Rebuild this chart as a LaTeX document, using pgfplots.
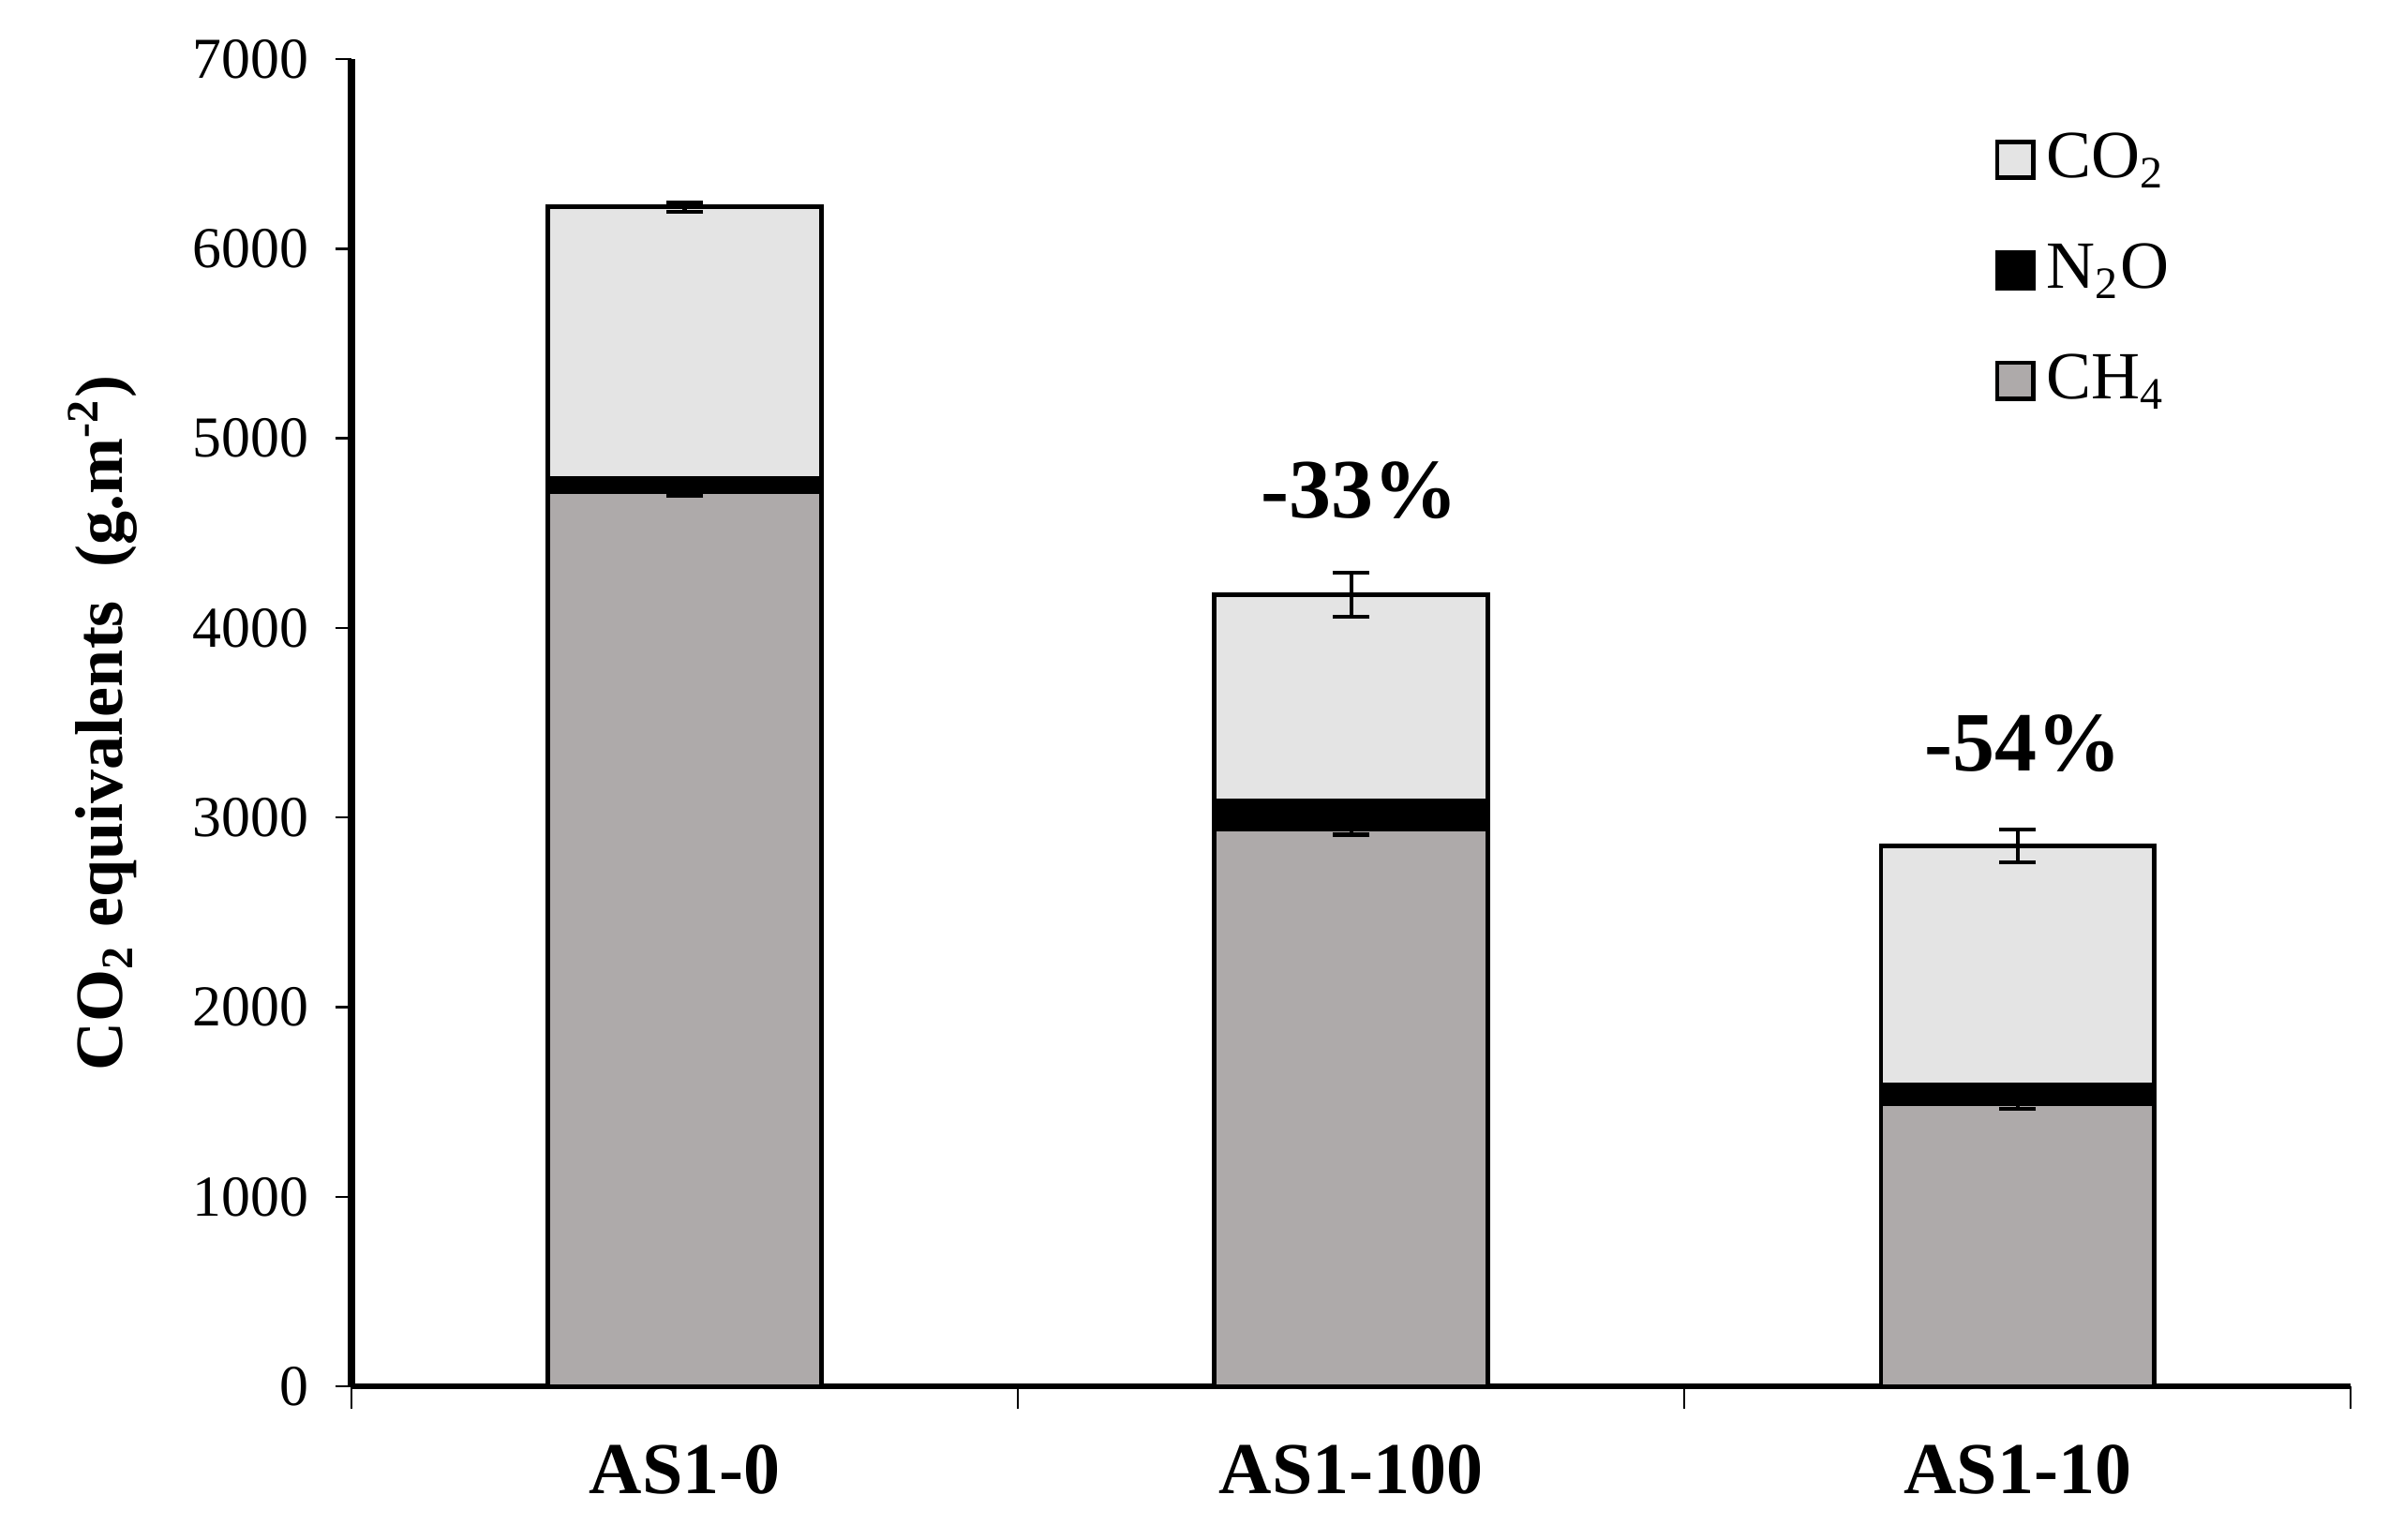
\documentclass[border=0pt]{standalone}
\usepackage{fontspec}
\setmainfont{Liberation Serif}
\usepackage{pgfplots}
\pgfplotsset{compat=1.18}

\definecolor{cotwo}{RGB}{228,228,228}
\definecolor{chfour}{RGB}{174,170,170}

\begin{document}
\begin{tikzpicture}
\path[use as bounding box] (-62.5pt,-27.3pt) rectangle (362.3pt,246.5pt);
\begin{axis}[
  scale only axis,
  width=355.5pt, height=236pt,
  ybar stacked, bar width=0.41,
  xmin=-0.5, xmax=2.5, ymin=0, ymax=7000,
  axis x line*=bottom, axis y line*=left,
  x axis line style={line width=1.1pt, -},
  y axis line style={line width=1.2pt, -},
  tick align=outside,
  xtick={0,1,2}, xticklabels={AS1-0,AS1-100,AS1-10},
  minor xtick={-0.5,0.5,1.5,2.5},
  major x tick style={draw=none},
  minor x tick style={line width=0.4pt, black},
  major y tick style={line width=0.4pt, black},
  major tick length=2.9pt, minor tick length=4pt,
  ytick distance=1000,
  scaled y ticks=false,
  /pgf/number format/1000 sep={},
  /pgf/number format/assume math mode=true,
  yticklabel style={font=\fontsize{10.3}{12}\selectfont, xshift=-1.2pt},
  xticklabel style={font=\bfseries\fontsize{13}{15}\selectfont, yshift=-4pt},
  ylabel={\bfseries CO\textsubscript{2} equivalents\enspace (g.m\textsuperscript{-2})},
  ylabel style={font=\fontsize{12}{14}\selectfont},
  ylabel shift=3pt,
  legend style={draw=none, fill=none, at={(0.813,0.962)}, anchor=north west,
    font=\fontsize{12}{14}\selectfont, row sep=6.2pt,
    /tikz/every even column/.append style={column sep=0pt}},
  legend cell align=left,
  reverse legend,
  every axis plot/.append style={draw=black, line width=0.8pt},
  error bars/error bar style={line width=0.7pt, black},
  error bars/error mark options={rotate=90, mark size=3.3pt, line width=0.7pt, black},
]
\addplot[fill=chfour, legend image code/.code={\draw[fill=chfour, draw=black, line width=0.8pt] (0pt,-3.2pt) rectangle (6.4pt,3.2pt);},
  error bars/.cd, y dir=both, y explicit]
  coordinates {(0,4720) +- (0,25) (1,2940) +- (0,30) (2,1490) +- (0,25)};
\addplot[fill=black, legend image code/.code={\draw[fill=black, draw=black, line width=0.8pt] (0pt,-3.2pt) rectangle (6.4pt,3.2pt);}]
  coordinates {(0,70) (1,150) (2,100)};
\addplot[fill=cotwo, legend image code/.code={\draw[fill=cotwo, draw=black, line width=0.8pt] (0pt,-3.2pt) rectangle (6.4pt,3.2pt);},
  error bars/.cd, y dir=both, y explicit]
  coordinates {(0,1430) +- (0,25) (1,1085) +- (0,115) (2,1260) +- (0,85)};
\legend{CH\textsubscript{4}, N\textsubscript{2}O, CO\textsubscript{2}}
\node[font=\bfseries\fontsize{15}{17}\selectfont, xshift=1.5pt] at (axis cs:1,4725) {-33\%};
\node[font=\bfseries\fontsize{15}{17}\selectfont, xshift=1pt] at (axis cs:2,3390) {-54\%};
\end{axis}
\end{tikzpicture}
\end{document}
